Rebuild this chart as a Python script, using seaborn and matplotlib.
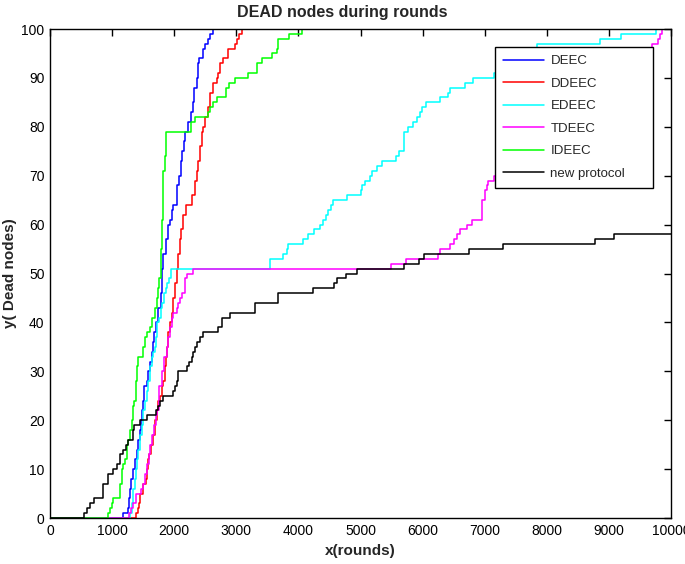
import numpy as np
import pandas as pd
import matplotlib
matplotlib.use("Agg")
import matplotlib.pyplot as plt
import seaborn as sns

# ---------------- data ----------------
protocols = ["DEEC", "DDEEC", "EDEEC", "TDEEC", "IDEEC", "new protocol"]
colors = ["#0000ff", "#ff0000", "#00ffff", "#ff00ff", "#00ff00", "#000000"]

deec_x = [0, 1170, 1250, 1265, 1285, 1305, 1330, 1365, 1395, 1420, 1445, 1465, 1480, 1500, 1520, 1556, 1583, 1610,
          1637, 1655, 1674, 1707, 1744, 1782, 1800, 1810, 1825, 1868, 1905, 1932, 1959, 1986, 2039, 2082, 2104, 2120,
          2150, 2174, 2227, 2275, 2300, 2324, 2361, 2388, 2404, 2465, 2496, 2549, 2576, 2619, 10000]
deec_y = [0, 1, 2, 4, 6, 8, 10, 12, 14, 16, 18, 20, 22, 24, 27, 28, 30, 32, 34, 36, 38, 40, 43, 46, 50, 51, 54, 57,
          60, 61, 63, 64, 68, 70, 73, 75, 77, 79, 81, 83, 85, 88, 90, 93, 94, 96, 97, 98, 99, 100, 100]

ddeec_x = [0, 1379, 1410, 1430, 1450, 1503, 1546, 1565, 1583, 1600, 1625, 1664, 1690, 1717, 1740, 1771, 1798, 1825,
           1845, 1868, 1890, 1905, 1930, 1959, 1985, 2013, 2040, 2066, 2093, 2110, 2147, 2190, 2281, 2334, 2372, 2388,
           2415, 2442, 2460, 2496, 2549, 2576, 2630, 2683, 2710, 2737, 2780, 2871, 2979, 3005, 3048, 3090, 10000]
ddeec_y = [0, 1, 2, 3, 5, 7, 8, 10, 12, 13, 15, 17, 20, 22, 24, 25, 27, 28, 31, 33, 35, 38, 40, 42, 45, 48, 51, 54,
           57, 59, 62, 64, 66, 69, 71, 73, 76, 79, 80, 82, 84, 87, 89, 90, 91, 93, 94, 96, 97, 98, 99, 100, 100]

edeec_x = [0, 1288, 1315, 1342, 1370, 1385, 1395, 1420, 1449, 1475, 1503, 1530, 1560, 1583, 1610, 1637, 1660, 1690,
           1710, 1730, 1760, 1790, 1810, 1840, 1860, 1890, 1910, 1950, 3542, 3757, 3810, 3837, 4068, 4150, 4250, 4350,
           4401, 4450, 4480, 4520, 4562, 4787, 5002, 5030, 5072, 5152, 5179, 5259, 5340, 5570, 5620, 5699, 5769, 5850,
           5914, 5957, 5984, 6054, 6279, 6413, 6440, 6682, 6805, 7149, 7836, 8855, 9188, 9757, 10000]
edeec_y = [0, 1, 3, 6, 8, 10, 12, 14, 17, 19, 22, 24, 26, 28, 31, 33, 34, 35, 37, 40, 41, 43, 44, 46, 47, 48, 49, 51,
           53, 54, 55, 56, 57, 58, 59, 60, 61, 62, 63, 64, 65, 66, 67, 68, 69, 70, 71, 72, 73, 74, 75, 79, 80, 81, 82,
           83, 84, 85, 86, 87, 88, 89, 90, 91, 97, 98, 99, 100, 100]

tdeec_x = [0, 1277, 1300, 1340, 1385, 1460, 1500, 1530, 1560, 1590, 1610, 1640, 1670, 1700, 1717, 1760, 1800, 1830,
           1878, 1900, 1930, 1959, 1985, 2040, 2066, 2093, 2120, 2173, 2200, 2300, 5491, 5733, 6253, 6280, 6441, 6506,
           6549, 6601, 6710, 6790, 6950, 7003, 7030, 7057, 7150, 9700, 9790, 9820, 9850, 10000]
tdeec_y = [0, 1, 2, 3, 5, 6, 7, 9, 11, 13, 15, 17, 19, 21, 22, 27, 30, 33, 35, 37, 39, 41, 42, 43, 44, 45, 46, 49,
           50, 51, 52, 53, 54, 55, 56, 57, 58, 59, 60, 61, 65, 67, 68, 69, 70, 97, 98, 99, 100, 100]

ideec_x = [0, 939, 966, 993, 1020, 1127, 1154, 1181, 1208, 1235, 1261, 1288, 1315, 1342, 1358, 1380, 1400, 1422, 1500,
           1530, 1560, 1610, 1650, 1690, 1720, 1740, 1760, 1780, 1790, 1800, 1812, 1825, 1850, 1868, 2270, 2334, 2549,
           2576, 2619, 2694, 2834, 2887, 2979, 3193, 3328, 3408, 3569, 3650, 3676, 3853, 4050, 10000]
ideec_y = [0, 1, 2, 3, 4, 7, 10, 11, 12, 15, 16, 18, 20, 23, 24, 28, 31, 33, 35, 37, 38, 39, 41, 43, 45, 47, 49, 51,
           55, 61, 66, 71, 74, 79, 81, 82, 83, 84, 85, 86, 88, 89, 90, 91, 93, 94, 95, 96, 98, 99, 100, 100]

newp_x = [0, 540, 590, 645, 715, 860, 940, 1020, 1085, 1130, 1170, 1225, 1260, 1330, 1360, 1450, 1556, 1707, 1740,
          1771, 1825, 1980, 2015, 2040, 2062, 2200, 2240, 2281, 2300, 2340, 2361, 2420, 2470, 2700, 2764, 2900, 3300,
          3670, 4230, 4580, 4620, 4760, 4940, 5700, 5950, 6025, 6750, 7290, 8780, 9080, 10000]
newp_y = [0, 1, 2, 3, 4, 7, 9, 10, 11, 13, 14, 15, 16, 18, 19, 20, 21, 22, 23, 24, 25, 26, 27, 28, 30, 31, 32, 33,
          34, 35, 36, 37, 38, 39, 41, 42, 44, 46, 47, 48, 49, 50, 51, 52, 53, 54, 55, 56, 57, 58, 58]

x_ticks = [0, 1000, 2000, 3000, 4000, 5000, 6000, 7000, 8000, 9000, 10000]
y_ticks = [0, 10, 20, 30, 40, 50, 60, 70, 80, 90, 100]

series = {
    "DEEC": (deec_x, deec_y),
    "DDEEC": (ddeec_x, ddeec_y),
    "EDEEC": (edeec_x, edeec_y),
    "TDEEC": (tdeec_x, tdeec_y),
    "IDEEC": (ideec_x, ideec_y),
    "new protocol": (newp_x, newp_y),
}

frames = []
for name in protocols:
    xs, ys = series[name]
    frames.append(pd.DataFrame({"round": xs, "dead": ys, "protocol": name}))
df = pd.concat(frames, ignore_index=True)

# ---------------- style ----------------
sns.set_theme(style="white")
plt.rcParams["font.family"] = ["Liberation Sans", "DejaVu Sans"]
plt.rcParams["axes.edgecolor"] = "black"
plt.rcParams["axes.linewidth"] = 1.0

fig = plt.figure(figsize=(6.85, 5.64), dpi=100)
ax = fig.add_axes([50 / 685, 1 - 518 / 564, 621 / 685, 489 / 564])

sns.lineplot(data=df, x="round", y="dead", hue="protocol", hue_order=protocols,
             palette=dict(zip(protocols, colors)), estimator=None, sort=False,
             drawstyle="steps-post", linewidth=1.1, ax=ax)

ax.set_xlim(0, 10000)
ax.set_ylim(0, 100)
ax.set_xticks(x_ticks)
ax.set_yticks(y_ticks)
ax.tick_params(direction="in", length=5, width=1, top=True, right=True,
               labelsize=10, colors="black", pad=4)
for s in ax.spines.values():
    s.set_visible(True)
    s.set_color("black")
    s.set_linewidth(1.0)

ax.set_title("DEAD nodes during rounds", fontsize=11.5, fontweight="bold", pad=9,
             x=(342 - 50) / 621)
ax.set_xlabel("x(rounds)", fontsize=11, fontweight="bold", labelpad=5)
ax.set_ylabel("y( Dead nodes)", fontsize=11, fontweight="bold", labelpad=3)

handles, labels = ax.get_legend_handles_labels()
leg = ax.legend(handles, labels, loc="upper left",
                bbox_to_anchor=(445 / 621, (518 - 193) / 489, 158 / 621, 146 / 489),
                mode="expand", borderaxespad=0, fontsize=9.5, frameon=True,
                fancybox=False, framealpha=1, edgecolor="black",
                handlelength=3.1, handletextpad=0.5, labelspacing=0.78,
                borderpad=0.6)
leg.get_frame().set_linewidth(1.0)
for line in leg.get_lines():
    line.set_linewidth(1.1)

fig.savefig("out.png", dpi=100)
